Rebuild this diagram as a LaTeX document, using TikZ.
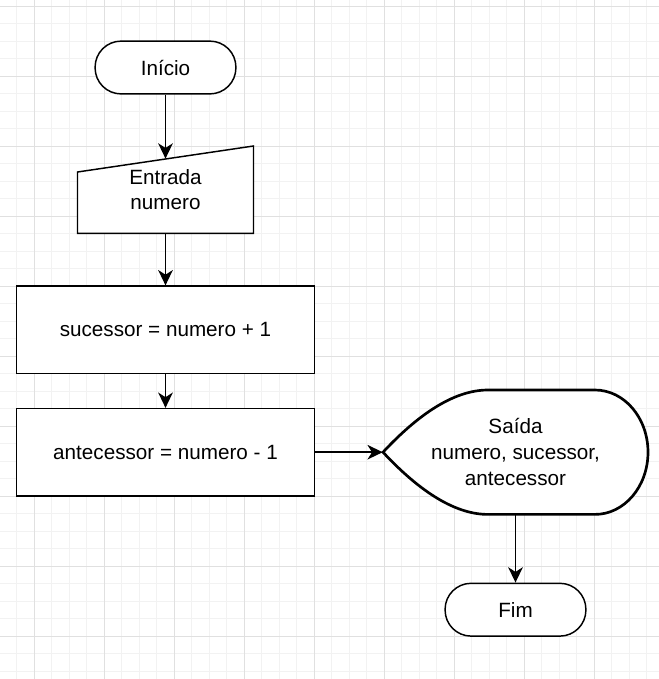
\documentclass[tikz,border=0pt]{standalone}
\usepackage{fontspec}
\setmainfont{Liberation Sans}
\usetikzlibrary{arrows.meta, positioning}

\begin{document}
\begin{tikzpicture}[
    x=0.75pt, y=-0.75pt,
    base/.style={draw, line width=1.1pt, fill=white, align=center, inner sep=0pt, font=\fontsize{15.5}{19.3}\selectfont},
    term/.style={base, rounded corners=19.5pt, minimum width=105.6pt, minimum height=39.6pt},
    proc/.style={base, rectangle, minimum width=223.2pt, minimum height=65.4pt},
    % text only, the outline is drawn by hand
    label/.style={align=center, inner sep=0pt, font=\fontsize{15.5}{19.3}\selectfont},
    outline/.style={draw, fill=white, line width=1.1pt},
    arrow/.style={-{Stealth[length=11.5pt, width=11pt, inset=3.5pt]}, line width=1.1pt},
    minorgrid/.style={draw=black!5, line width=0.75pt},
    majorgrid/.style={draw=black!12, line width=0.75pt}
]

    \useasboundingbox (0,0) rectangle (659,679);

    % --- Grid ---
    \foreach \i in {0,...,36} \draw[minorgrid] ({16.8+17.5*\i},0) -- ++(0,679);
    \foreach \j in {0,...,38} \draw[minorgrid] (0,{6.3+17.5*\j}) -- ++(659,0);
    \foreach \i in {0,...,8} \draw[majorgrid] ({34.3+70*\i},0) -- ++(0,679);
    \foreach \j in {0,...,9} \draw[majorgrid] (0,{6.3+70*\j}) -- ++(659,0);

    % --- Shapes ---
    % manual input
    \begin{scope}[shift={(165.5,189.7)}]
        \draw[outline] (-88,-17.7) -- (88,-43.7) -- (88,43.6) -- (-88,43.6) -- cycle;
    \end{scope}
    % display
    \begin{scope}[shift={(515.5,452.2)}]
        \draw[outline, line width=2pt] (-132.5,0)
            .. controls (-93.8,-41.5) and (-58.8,-62.2) .. (-27.5,-62.2)
            -- (79.5,-62.2) arc[start angle=90, end angle=-90, x radius=39.75pt, y radius=46.65pt]
            -- (-27.5,62.2)
            .. controls (-58.8,62.2) and (-93.8,41.5) .. (-132.5,0) -- cycle;
    \end{scope}

    % --- Nodes ---
    \node[term] (inicio) at (165.5,67.5) {Início};
    \node[label, minimum width=132pt, minimum height=65.4pt] (entrada) at (165.5,189.7) {Entrada\\numero};
    \node[proc] (suc) at (165.5,329.7) {sucessor = numero + 1};
    \node[proc] (ant) at (165.5,452.2) {antecessor = numero - 1};
    \node[label, minimum width=198.75pt, minimum height=93.3pt] (saida) at (515.5,452.2) {Saída\\numero, sucessor,\\antecessor};
    \node[term] (fim) at (515.5,609.7) {Fim};

    % --- Connections ---
    \draw[arrow] (inicio.south) -- ([yshift=-9.6pt]entrada.north);
    \draw[arrow] (entrada.south) -- (suc.north);
    \draw[arrow] (suc.south) -- (ant.north);
    \draw[arrow] (ant.east) -- (saida.west);
    \draw[arrow] (saida.south) -- (fim.north);

\end{tikzpicture}
\end{document}
